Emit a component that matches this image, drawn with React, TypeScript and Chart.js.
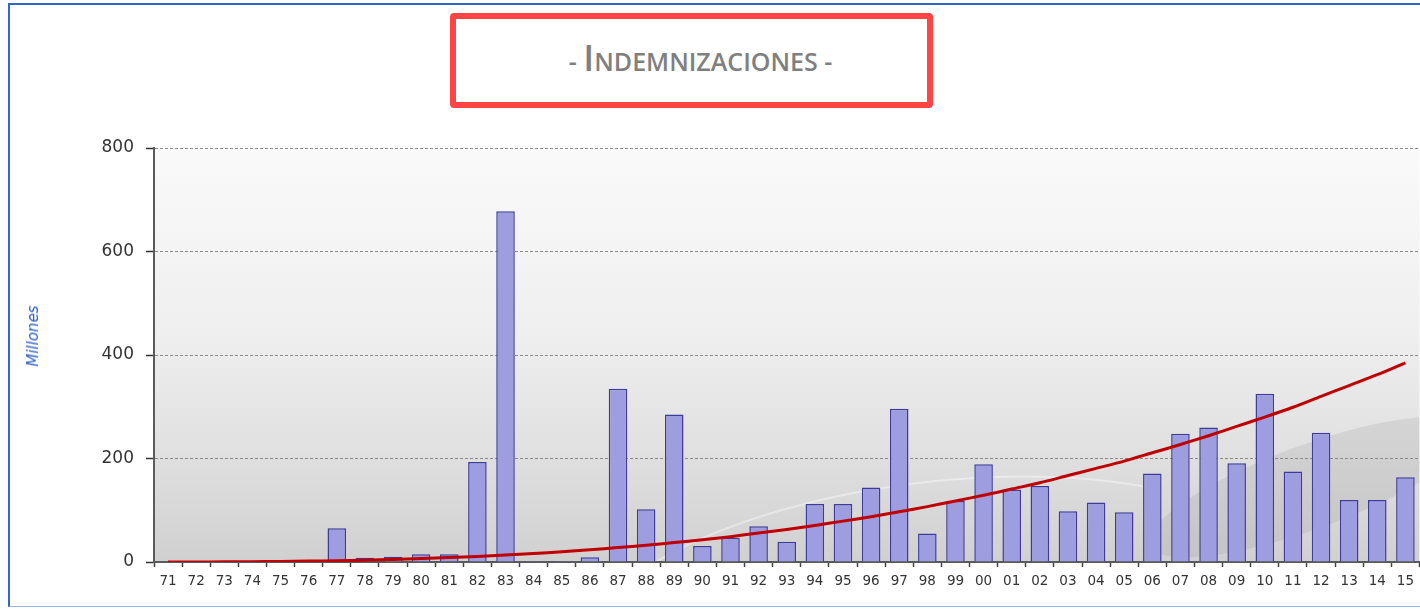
import React, { useEffect, useRef } from "react";
import { Chart, registerables } from "chart.js";

Chart.register(...registerables);

const years = [
  "71", "72", "73", "74", "75", "76", "77", "78", "79", "80",
  "81", "82", "83", "84", "85", "86", "87", "88", "89", "90",
  "91", "92", "93", "94", "95", "96", "97", "98", "99", "00",
  "01", "02", "03", "04", "05", "06", "07", "08", "09", "10",
  "11", "12", "13", "14", "15",
];

const indemnizaciones = [
  1, 0, 0, 0, 0, 0, 65, 8, 10, 15,
  15, 193, 678, 2, 2, 9, 335, 102, 285, 31,
  47, 69, 39, 112, 112, 144, 296, 55, 118, 189,
  140, 147, 98, 115, 96, 171, 248, 260, 191, 325,
  175, 250, 120, 120, 164,
];

const tendencia = [
  0, 0.1, 0.3, 0.6, 1, 1.7, 2.5, 3.6, 5, 6.6,
  8.6, 10.8, 13.5, 16.5, 19.8, 23.6, 27.8, 32.4, 37.5, 43,
  49, 56, 63, 70.5, 79, 87.5, 97, 107, 118, 129,
  141, 153, 167, 181, 195, 211, 227, 244, 262, 280,
  299, 320, 341, 362, 385,
];

const yMin = 0;
const yMax = 800;
const yStep = 200;

const backgroundPlugin = {
  id: "plotBackground",
  beforeDraw(chart: any) {
    const { ctx, chartArea } = chart;
    if (!chartArea) return;
    const { left, top, right, bottom } = chartArea;
    ctx.save();
    const g = ctx.createLinearGradient(0, top, 0, bottom);
    g.addColorStop(0, "#fafafa");
    g.addColorStop(0.45, "#efefef");
    g.addColorStop(0.72, "#e1e1e1");
    g.addColorStop(1, "#d0d0d0");
    ctx.fillStyle = g;
    ctx.fillRect(left, top, right - left, bottom - top);
    // decorative swoosh
    ctx.beginPath();
    ctx.rect(left, top, right - left, bottom - top);
    ctx.clip();
    ctx.fillStyle = "rgba(150,150,150,0.2)";
    ctx.beginPath();
    ctx.ellipse(right - 110, bottom - 75, 170, 42, -0.35, 0, Math.PI * 2);
    ctx.fill();
    ctx.strokeStyle = "rgba(255,255,255,0.4)";
    ctx.lineWidth = 2;
    ctx.beginPath();
    ctx.ellipse(left + 780, bottom + 60, 360, 140, -0.12, Math.PI * 1.08, Math.PI * 1.72);
    ctx.stroke();
    ctx.restore();
  },
};

export default function App() {
  const canvasRef = useRef<HTMLCanvasElement | null>(null);

  useEffect(() => {
    const canvas = canvasRef.current;
    if (!canvas) return;
    const chart = new Chart(canvas, {
      type: "bar",
      data: {
        labels: years,
        datasets: [
          {
            type: "line",
            label: "Tendencia",
            data: tendencia,
            borderColor: "#c00000",
            borderWidth: 3,
            pointRadius: 0,
            tension: 0.3,
            fill: false,
            order: 0,
          } as any,
          {
            type: "bar",
            label: "Indemnizaciones",
            data: indemnizaciones,
            backgroundColor: "#9d9de0",
            borderColor: "#3d3d99",
            borderWidth: 1.5,
            barPercentage: 0.66,
            categoryPercentage: 1,
            order: 1,
          },
        ],
      },
      options: {
        responsive: false,
        animation: false,
        layout: { padding: { top: 148, left: 0, right: 0, bottom: 0 } },
        plugins: {
          legend: { display: false },
          title: { display: false },
          tooltip: { enabled: false },
        },
        scales: {
          x: {
            offset: true,
            grid: {
              display: true,
              drawOnChartArea: false,
              drawTicks: true,
              tickLength: 5,
              tickColor: "#444444",
              tickWidth: 1.5,
              offset: true,
            },
            border: { display: true, color: "#5a5a5a", width: 2 },
            ticks: {
              color: "#333333",
              font: { family: "'DejaVu Sans', Verdana, sans-serif", size: 13.5 },
              padding: 6,
              maxRotation: 0,
              autoSkip: false,
            },
            afterFit(scale: any) {
              scale.height = 48;
            },
          },
          y: {
            min: yMin,
            max: yMax,
            ticks: {
              stepSize: yStep,
              color: "#333333",
              font: { family: "'DejaVu Sans', Verdana, sans-serif", size: 17 },
              padding: 12,
            },
            grid: {
              color: (ctx: any) => (ctx.tick && ctx.tick.value === 0 ? "rgba(0,0,0,0)" : "#8a8a8a"),
              lineWidth: 1,
              drawTicks: true,
              tickLength: 8,
              tickColor: "#333333",
              tickWidth: 1.5,
            },
            border: { display: true, color: "#5a5a5a", width: 2, dash: [3, 2] },
            afterFit(scale: any) {
              scale.width = 154;
            },
          },
        },
      },
      plugins: [backgroundPlugin],
    });
    return () => chart.destroy();
  }, []);

  return (
    <div
      style={{
        position: "absolute",
        left: 0,
        top: 0,
        width: 1420,
        height: 610,
        background: "#ffffff",
        overflow: "hidden",
      }}
    >
      <div
        style={{
          position: "absolute",
          left: 8,
          top: 3,
          width: 1430,
          height: 604,
          borderTop: "2px solid #2f66c9",
          borderLeft: "2px solid #2f66c9",
          borderBottom: "1px solid #9db3e3",
          boxSizing: "border-box",
        }}
      />
      <canvas
        ref={canvasRef}
        width={1420}
        height={610}
        style={{ position: "absolute", left: 0, top: 0, width: 1420, height: 610 }}
      />
      <div
        style={{
          position: "absolute",
          left: 33,
          top: 336,
          transform: "translate(-50%, -50%) rotate(-90deg)",
          color: "#2d5fc4",
          fontFamily: "'DejaVu Sans', Verdana, sans-serif",
          fontStyle: "italic",
          fontSize: 15,
          whiteSpace: "nowrap",
        }}
      >
        Millones
      </div>
      <div
        style={{
          position: "absolute",
          left: 450,
          top: 13,
          width: 483,
          height: 95,
          boxSizing: "border-box",
          border: "6px solid #ff4444",
          borderRadius: 4,
          background: "#ffffff",
          display: "flex",
          alignItems: "center",
          justifyContent: "center",
        }}
      >
        <div
          style={{
            fontFamily: "'Open Sans', sans-serif",
            fontWeight: 600,
            color: "#7f7f7f",
            whiteSpace: "nowrap",
            lineHeight: 1,
            marginTop: -5,
            marginLeft: 18,
          }}
        >
          <span style={{ fontSize: 25 }}>- </span>
          <span style={{ fontSize: 36 }}>I</span>
          <span style={{ fontSize: 25 }}>NDEMNIZACIONES -</span>
        </div>
      </div>
    </div>
  );
}
